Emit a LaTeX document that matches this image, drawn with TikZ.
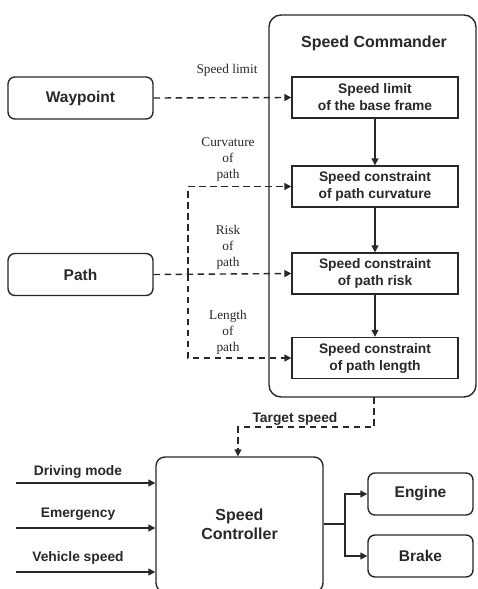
\documentclass[tikz,border=0pt]{standalone}
\usepackage{fontspec}
\setmainfont{Liberation Sans}
\newfontfamily\labelserif{Liberation Serif}
\usetikzlibrary{arrows.meta}
\definecolor{ink}{RGB}{40,40,40}
\begin{document}
\begin{tikzpicture}[x=1pt,y=-1pt,
  line width=1.4pt, color=ink,
  tip/.style={-{Triangle[length=7pt,width=7pt]}},
  dsh/.style={dash pattern=on 6.5pt off 4.5pt},
  rbox/.style={draw, rounded corners=7pt, font=\fontsize{15.5}{18}\selectfont\bfseries},
  inbox/.style={draw, minimum width=166pt, minimum height=41pt, align=center,
                font=\fontsize{13.8}{17}\selectfont\bfseries, inner sep=0pt},
  slabel/.style={align=center, font=\labelserif\fontsize{13.3}{15.8}\selectfont},
  blabel/.style={font=\fontsize{13.8}{16}\selectfont\bfseries}]
\useasboundingbox (0,0) rectangle (477,589);

% Speed Commander frame and its chain of constraints
\draw[rounded corners=12pt] (269,15) rectangle (476,397);
\node[font=\fontsize{16}{18}\selectfont\bfseries] (title) at (374,43) {Speed Commander};
\node[inbox] (b1) at (375,97.5) {Speed limit\\of the base frame};
\node[inbox] (b2) at (375,186.5) {Speed constraint\\of path curvature};
\node[inbox] (b3) at (375,273.5) {Speed constraint\\of path risk};
\node[inbox] (b4) at (375,358) {Speed constraint\\of path length};
\draw[tip] (b1) -- (b2);
\draw[tip] (b2) -- (b3);
\draw[tip] (b3) -- (b4);

% Inputs from the planner
\node[rbox, minimum width=145pt, minimum height=42pt] (wp) at (80.5,98) {Waypoint};
\node[rbox, minimum width=145pt, minimum height=42pt] (path) at (80.5,274.5) {Path};
\coordinate (split) at (188,274.5);
\draw[dsh,tip] (wp.east) -- (b1.west);
\draw[dsh,tip] (path.east) -- (b3.west);
\draw[dsh,tip] (split) |- (b2.west);
\draw[dsh,tip] (split) |- (b4.west);

\node[slabel] (l1) at (227,70) {Speed limit};
\node[slabel] (l2) at (228,159.5) {Curvature\\of\\path};
\node[slabel] (l3) at (228,247.5) {Risk\\of\\path};
\node[slabel] (l4) at (228,332.5) {Length\\of\\path};

% Speed Controller and its signals
\node[draw, rounded corners=9pt, minimum width=167pt, minimum height=135pt,
      align=center, font=\fontsize{16}{19}\selectfont\bfseries] (ctrl) at (239.5,524.5) {Speed\\Controller};
\coordinate (cmdout) at (374,397);
\coordinate (tsbend) at (374,427);
\coordinate (tsleft) at (238,427);
\draw[dsh,tip] (cmdout) -- (tsbend) -- (tsleft) -- (tsleft |- ctrl.north);
\node[blabel] (ts) at (295,419) {Target speed};

\coordinate (i1) at (16,483);
\coordinate (i2) at (16,528);
\coordinate (i3) at (16,572);
\draw[tip] (i1) -- (i1 -| ctrl.west);
\draw[tip] (i2) -- (i2 -| ctrl.west);
\draw[tip] (i3) -- (i3 -| ctrl.west);
\node[blabel] (dm) at (78,472) {Driving mode};
\node[blabel] (em) at (78,514) {Emergency};
\node[blabel] (vs) at (78,558) {Vehicle speed};

\node[rbox, minimum width=105pt, minimum height=42pt] (eng) at (420.5,494) {Engine};
\node[rbox, minimum width=105pt, minimum height=42pt] (brk) at (420.5,556) {Brake};
\coordinate (fork) at (345,524);
\draw (fork -| ctrl.east) -- (fork);
\draw[tip] (fork) |- (eng.west);
\draw[tip] (fork) |- (brk.west);
\end{tikzpicture}
\end{document}
